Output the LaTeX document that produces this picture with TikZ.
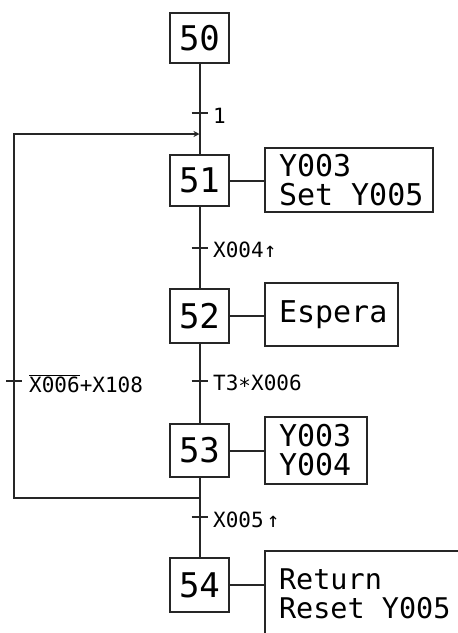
\documentclass[tikz,border=0pt]{standalone}
\usepackage{fontspec}
\setmonofont{DejaVu Sans Mono}
\usetikzlibrary{arrows.meta}
\newcommand{\msp}{\kern0.6em}
\begin{document}
\begin{tikzpicture}[x=1pt,y=-1pt,
  ln/.style={line width=2pt,draw=black!85},
  stepbox/.style={ln,rectangle,minimum width=59pt,inner sep=0pt,
    font=\ttfamily\fontsize{34}{34}\selectfont},
  actbox/.style={ln,rectangle,inner xsep=14pt,inner ysep=0pt,align=left,
    anchor=north west,font=\ttfamily\fontsize{30}{29}\selectfont},
  tlabel/.style={anchor=west,inner sep=0pt,font=\ttfamily\fontsize{21}{21}\selectfont}]
\clip (0,0) rectangle (458,633);
\fill[white] (0,0) rectangle (458,633);
% steps
\node[stepbox,minimum height=50pt] (s50) at (199.5,38) {50};
\node[stepbox,minimum height=51pt] (s51) at (199.5,180.5) {51};
\node[stepbox,minimum height=54pt] (s52) at (199.5,316) {52};
\node[stepbox,minimum height=53pt] (s53) at (199.5,450.5) {53};
\node[stepbox,minimum height=54pt] (s54) at (199.5,585) {54};
% actions
\node[actbox,minimum width=168pt,minimum height=64pt,text width=140pt] (a51) at (264,147) {Y003\\Set\msp Y005};
\node[actbox,minimum width=133pt,minimum height=63pt,text width=105pt] (a52) at (264,282) {Espera};
\node[actbox,minimum width=102pt,minimum height=67pt,text width=74pt] (a53) at (264,416) {Y003\\Y004};
\node[actbox,minimum width=206pt,minimum height=85pt,text width=178pt,inner xsep=13pt,
  font=\ttfamily\fontsize{28.5}{29}\selectfont] (a54) at (264,550) {Return\\Reset\msp Y005};
\foreach \s/\a in {s51/a51,s52/a52,s53/a53,s54/a54}
  \draw[ln] (\s.east) -- (\s.east -| \a.west);
% transition points
\coordinate (t1) at (199.5,113);
\coordinate (t2) at (199.5,248);
\coordinate (t3) at (199.5,381);
\coordinate (t4) at (199.5,517);
\coordinate (tl) at (14,381);
\coordinate (jt) at (199.5,134);
\coordinate (jb) at (199.5,498);
\coordinate (lt) at (14,134);
\coordinate (lb) at (14,498);
% main flow
\draw[ln] (s50.south) -- (s51.north);
\draw[ln] (s51.south) -- (s52.north);
\draw[ln] (s52.south) -- (s53.north);
\draw[ln] (s53.south) -- (s54.north);
% loop
\draw[ln,-{Stealth[length=6pt,width=6pt]}] (jb) -- (lb) -- (lt) -- (jt);
% ticks
\foreach \t in {t1,t2,t3,t4,tl}
  \draw[ln] ([xshift=-8pt]\t) -- ([xshift=8pt]\t);
% labels
\node[tlabel] (l1) at (213,116) {1};
\node[tlabel] (l2) at (213,250) {X004↑};
\node[tlabel] (l3) at (213,384) {T3\raisebox{-0.25ex}{*}X006};
\node[tlabel] (l4) at (213,520) {X005\kern3pt↑};
\node[tlabel] (ll) at (29,384) {$\overline{\hbox{X006}}$+X108};
\end{tikzpicture}
\end{document}
